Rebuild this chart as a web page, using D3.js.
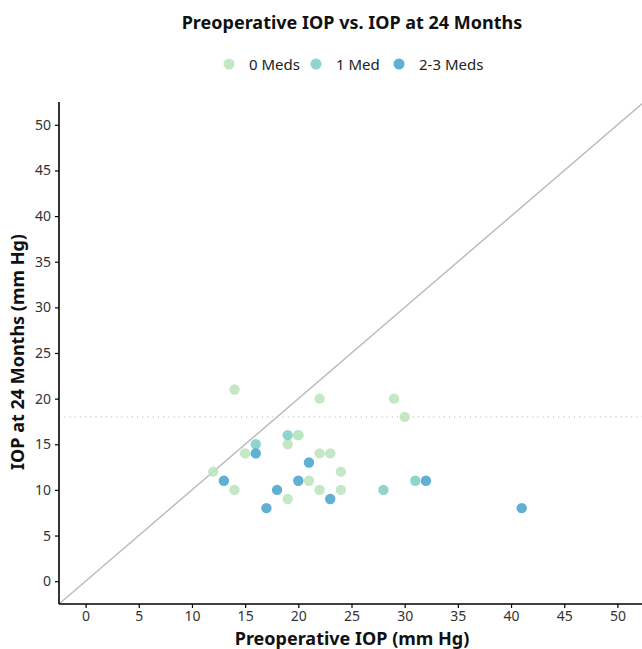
<!DOCTYPE html>
<html>
<head>
<meta charset="utf-8">
<script src="https://cdn.jsdelivr.net/npm/d3@7"></script>
<style>
  body { margin: 0; background: #fff; font-family: "Noto Sans", "Open Sans", sans-serif; }
  .tick text { fill: #333; font-size: 14px; }
</style>
</head>
<body>
<script>
// Data: [preop IOP, IOP at 24 months]
var groups = ["0 Meds", "1 Med", "2-3 Meds"];
var colors = ["#bae4bc", "#7bccc4", "#43a2ca"];
var meds0 = [[14,21],[22,20],[29,20],[30,18],[20,16],[20,16],[19,15],[15,14],[22,14],[23,14],
             [12,12],[24,12],[21,11],[14,10],[22,10],[24,10],[19,9]];
var meds1 = [[19,16],[16,15],[31,11],[28,10]];
var meds23 = [[16,14],[21,13],[13,11],[20,11],[32,11],[18,10],[23,9],[17,8],[41,8]];
var ticks = [0,5,10,15,20,25,30,35,40,45,50];
var targetIOP = 18;

var W = 642, H = 649;
var margin = { top: 102, right: -2, bottom: 45, left: 59 };

var svg = d3.select("body").append("svg")
    .attr("width", W)
    .attr("height", H);

var x = d3.scaleLinear().domain([-2.5, 52.5]).range([margin.left, W - margin.right]);
var y = d3.scaleLinear().domain([-2.5, 52.5]).range([H - margin.bottom, margin.top]);

// title
svg.append("text")
    .attr("x", 352).attr("y", 29)
    .attr("text-anchor", "middle")
    .style("font-size", "18px").style("font-weight", "bold").style("fill", "#111")
    .text("Preoperative IOP vs. IOP at 24 Months");

// legend
var legendX = [229, 316, 399];
groups.forEach(function(g, i) {
    svg.append("circle")
        .attr("cx", legendX[i]).attr("cy", 64).attr("r", 5.5)
        .style("fill", colors[i]).style("opacity", 0.85);
    svg.append("text")
        .attr("x", legendX[i] + 20).attr("y", 69.5)
        .style("font-size", "15px").style("fill", "#222")
        .text(g);
});

// reference lines
svg.append("line")
    .attr("x1", x(-2.5)).attr("y1", y(-2.5))
    .attr("x2", x(52.5)).attr("y2", y(52.5))
    .style("stroke", "#bdbdbd").style("stroke-width", 1.5);

svg.append("line")
    .attr("x1", x(-2.5)).attr("x2", x(52.5))
    .attr("y1", y(targetIOP)).attr("y2", y(targetIOP))
    .style("stroke", "#c8c8c8").style("stroke-width", 1.2)
    .style("stroke-dasharray", "1.2,4");

// points
var all = [meds0, meds1, meds23];
all.forEach(function(arr, i) {
    svg.append("g").selectAll("circle")
        .data(arr)
        .enter().append("circle")
        .attr("cx", d => x(d[0]))
        .attr("cy", d => y(d[1]))
        .attr("r", 5.2)
        .style("fill", colors[i])
        .style("opacity", 0.85);
});

// axes
var xAxis = svg.append("g")
    .attr("transform", "translate(0," + (H - margin.bottom) + ")")
    .call(d3.axisBottom(x).tickValues(ticks).tickSize(4).tickPadding(3));
var yAxis = svg.append("g")
    .attr("transform", "translate(" + margin.left + ",0)")
    .call(d3.axisLeft(y).tickValues(ticks).tickSize(4).tickPadding(4));

[xAxis, yAxis].forEach(function(a) {
    a.select(".domain").style("stroke", "#000").style("stroke-width", 1.6);
    a.selectAll(".tick line").style("stroke", "#000").style("stroke-width", 1.2);
    a.selectAll(".tick text").style("font-family", "'Noto Sans', sans-serif");
});
xAxis.select(".domain").attr("d", "M" + margin.left + ",0H" + W);
yAxis.select(".domain").attr("d", "M0," + margin.top + "V" + (H - margin.bottom));

// axis labels
svg.append("text")
    .attr("x", 352).attr("y", 645)
    .attr("text-anchor", "middle")
    .style("font-size", "18px").style("font-weight", "bold").style("fill", "#111")
    .text("Preoperative IOP (mm Hg)");

svg.append("text")
    .attr("transform", "translate(24," + 352 + ") rotate(-90)")
    .attr("text-anchor", "middle")
    .style("font-size", "18px").style("font-weight", "bold").style("fill", "#111")
    .text("IOP at 24 Months (mm Hg)");
</script>
</body>
</html>
